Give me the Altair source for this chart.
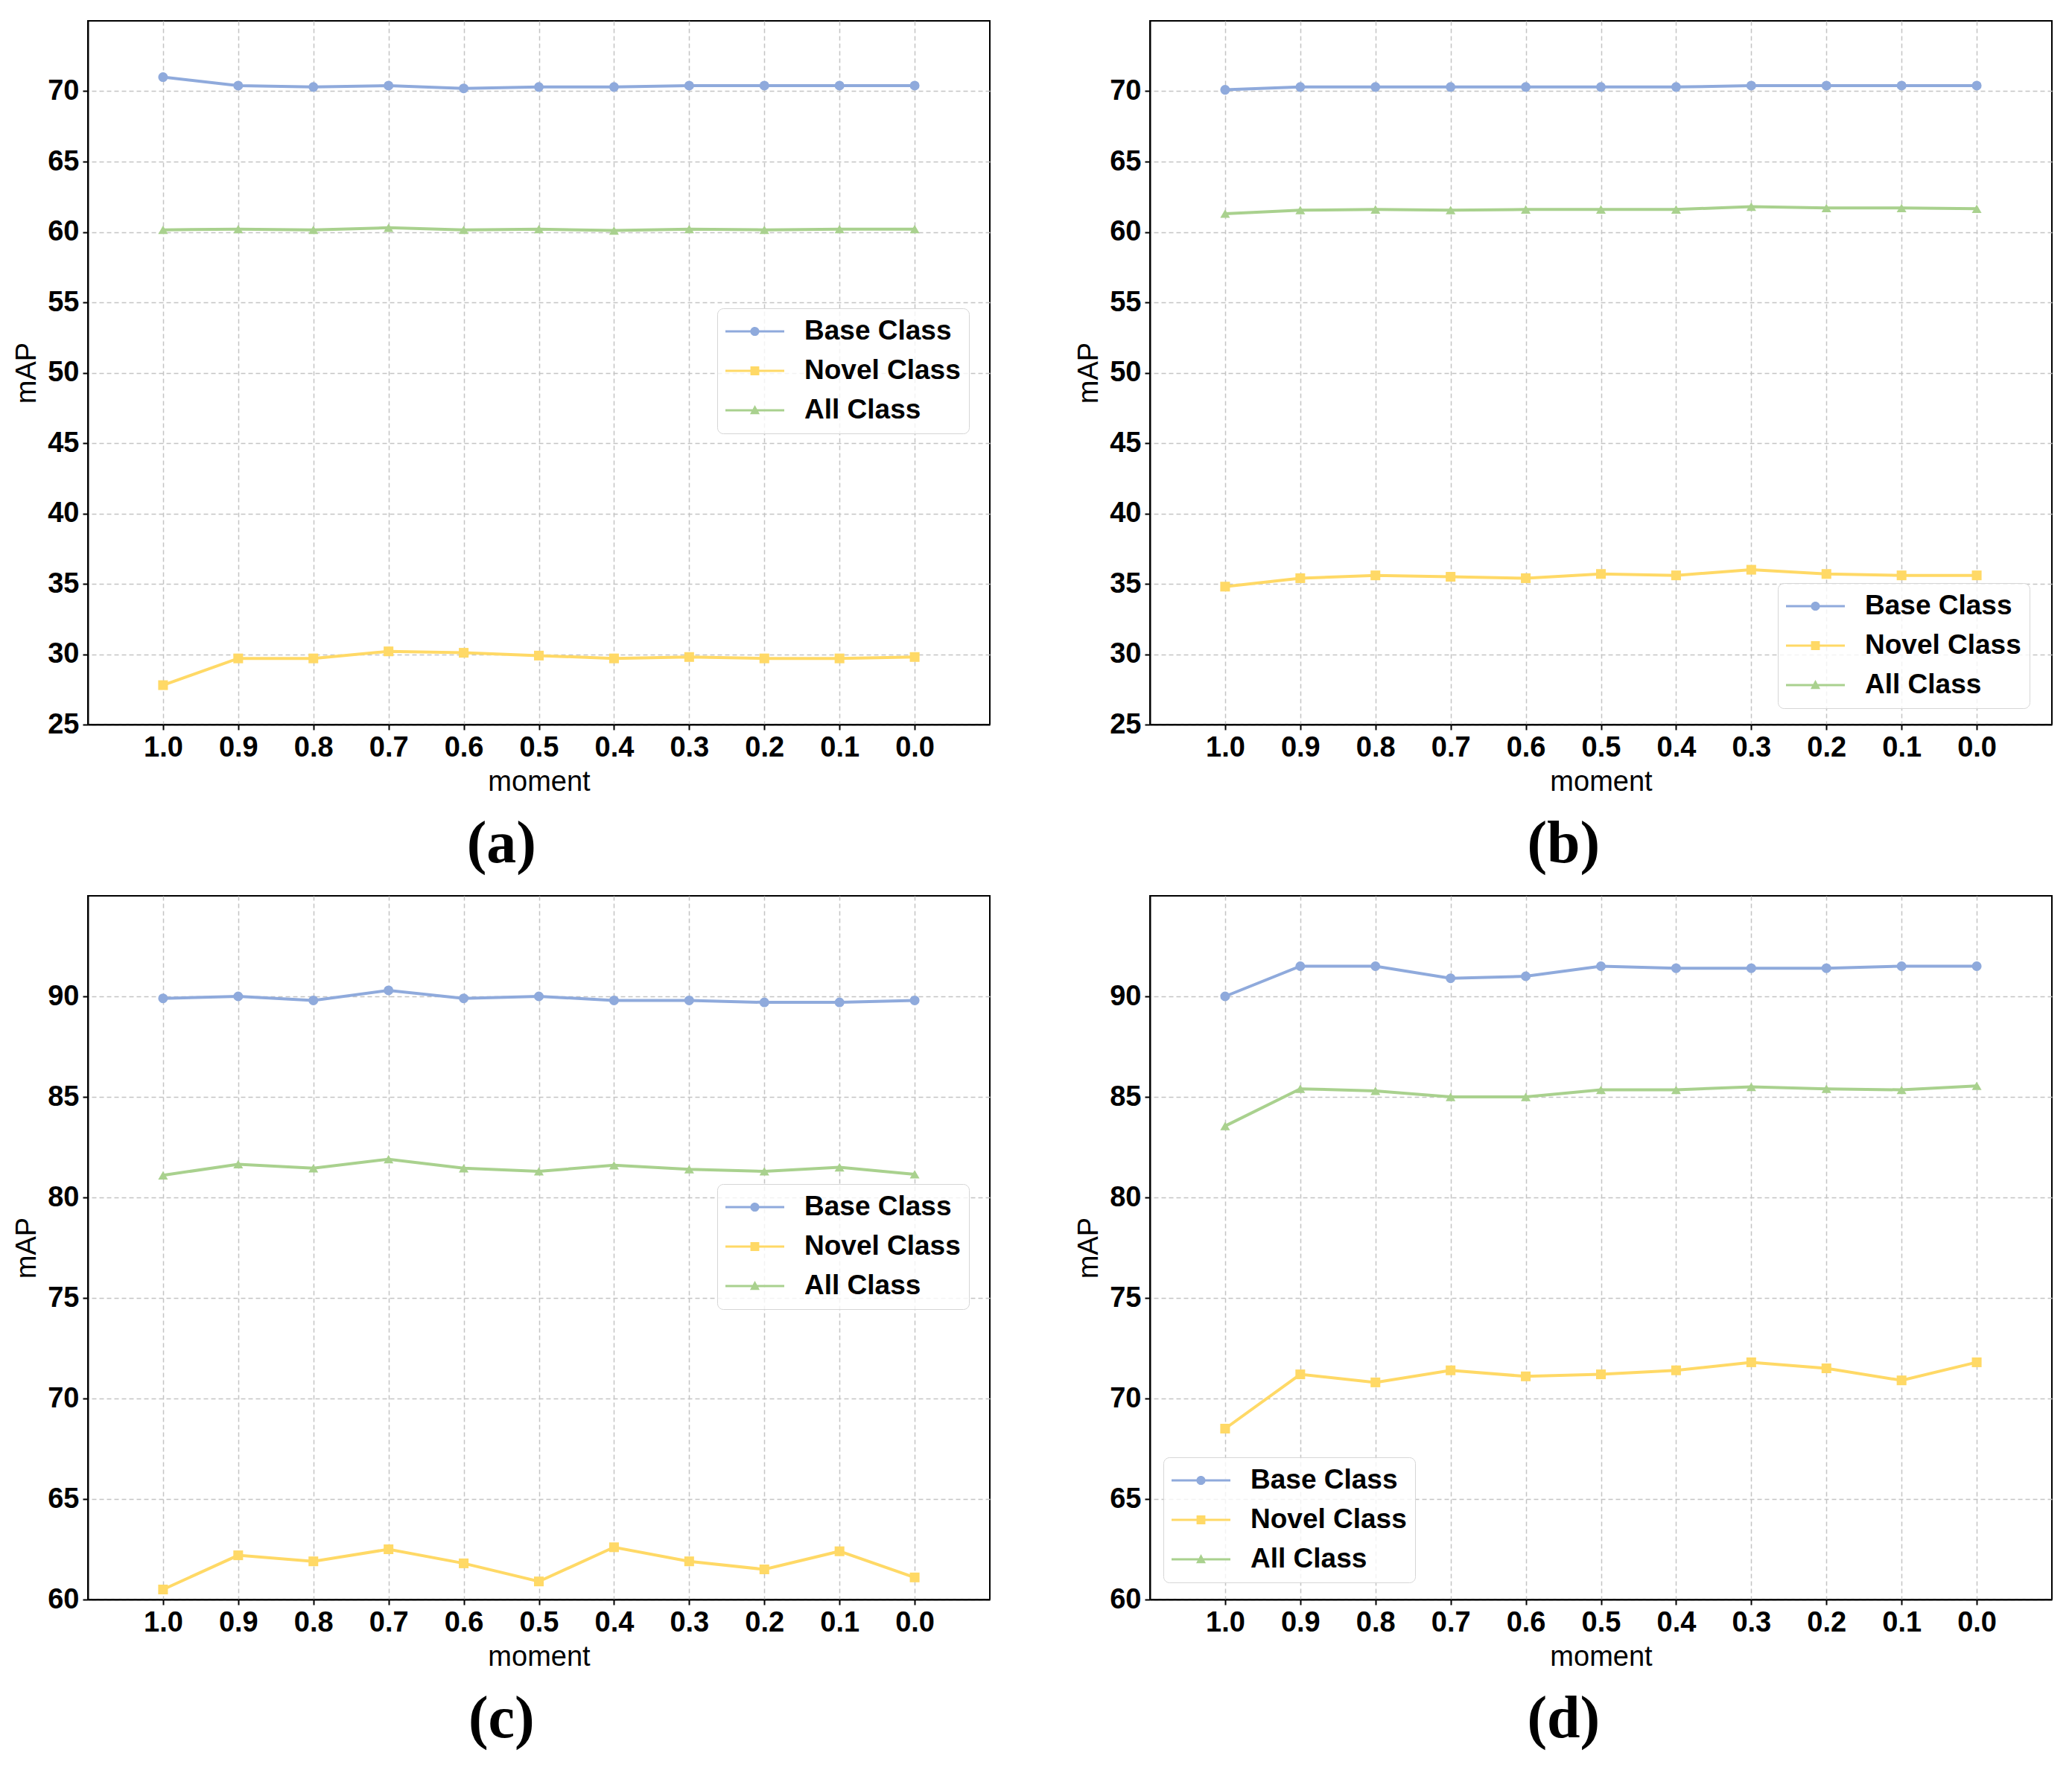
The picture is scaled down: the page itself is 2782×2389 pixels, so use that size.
import altair as alt
import pandas as pd

moments = [1.0, 0.9, 0.8, 0.7, 0.6, 0.5, 0.4, 0.3, 0.2, 0.1, 0.0]
series = ["Base Class", "Novel Class", "All Class"]
colors = ["#8FAADC", "#FFD966", "#A9D18E"]
markers = ["circle", "square", "triangle-up"]

a_base = [71.0, 70.4, 70.3, 70.4, 70.2, 70.3, 70.3, 70.4, 70.4, 70.4, 70.4]
a_novel = [27.8, 29.7, 29.7, 30.2, 30.1, 29.9, 29.7, 29.8, 29.7, 29.7, 29.8]
a_all = [60.15, 60.2, 60.15, 60.3, 60.15, 60.2, 60.1, 60.2, 60.15, 60.2, 60.2]

b_base = [70.1, 70.3, 70.3, 70.3, 70.3, 70.3, 70.3, 70.4, 70.4, 70.4, 70.4]
b_novel = [34.8, 35.4, 35.6, 35.5, 35.4, 35.7, 35.6, 36.0, 35.7, 35.6, 35.6]
b_all = [61.3, 61.55, 61.6, 61.55, 61.6, 61.6, 61.6, 61.8, 61.7, 61.7, 61.65]

c_base = [89.9, 90.0, 89.8, 90.3, 89.9, 90.0, 89.8, 89.8, 89.7, 89.7, 89.8]
c_novel = [60.5, 62.2, 61.9, 62.5, 61.8, 60.9, 62.6, 61.9, 61.5, 62.4, 61.1]
c_all = [81.1, 81.65, 81.45, 81.9, 81.45, 81.3, 81.6, 81.4, 81.3, 81.5, 81.15]

d_base = [90.0, 91.5, 91.5, 90.9, 91.0, 91.5, 91.4, 91.4, 91.4, 91.5, 91.5]
d_novel = [68.5, 71.2, 70.8, 71.4, 71.1, 71.2, 71.4, 71.8, 71.5, 70.9, 71.8]
d_all = [83.55, 85.4, 85.3, 85.0, 85.0, 85.35, 85.35, 85.5, 85.4, 85.35, 85.55]

yticks_ab = [25, 30, 35, 40, 45, 50, 55, 60, 65, 70]
yticks_cd = [60, 65, 70, 75, 80, 85, 90]

# legend symbols: line + marker, in unit coordinates
LINE = "M-1,-0.04L1,-0.04L1,0.04L-1,0.04Z"
P_CIRCLE = LINE + "M-0.155,0A0.155,0.155 0 1,1 0.155,0A0.155,0.155 0 1,1 -0.155,0Z"
P_SQUARE = LINE + "M-0.15,-0.15L0.15,-0.15L0.15,0.15L-0.15,0.15Z"
P_TRI = LINE + "M0,-0.18L0.165,0.13L-0.165,0.13Z"
legend_paths = [P_CIRCLE, P_SQUARE, P_TRI]

W, H = 1211, 945


def panel(label, base, novel, allc, ydom, yvals, lx, ly):
    rows = []
    for s, vals in zip(series, [base, novel, allc]):
        for m, v in zip(moments, vals):
            rows.append({"moment": m, "series": s, "mAP": v})
    df = pd.DataFrame(rows)
    x = alt.X("moment:Q",
              scale=alt.Scale(domain=[-0.1, 1.1], reverse=True, nice=False, zero=False),
              axis=alt.Axis(values=moments, format=".1f", title="moment"))
    y = alt.Y("mAP:Q", scale=alt.Scale(domain=ydom, nice=False, zero=False),
              axis=alt.Axis(values=yvals, title="mAP"))
    cscale = alt.Scale(domain=series, range=colors)
    leg = dict(orient="none", legendX=lx, legendY=ly, title=None,
               labelFont="Liberation Sans", labelFontSize=37, labelFontWeight="bold",
               labelColor="black", labelOffset=27, labelLimit=500, clipHeight=40,
               symbolSize=6241, symbolStrokeWidth=0, symbolOpacity=1,
               padding=11, strokeColor="#d6d6d6", fillColor="rgba(255,255,255,0.8)",
               cornerRadius=8)
    # legend-carrying layer first (its own points are fully transparent)
    layers = [alt.Chart(df)
              .mark_point(filled=True, opacity=0, size=10)
              .encode(x=x, y=y,
                      color=alt.Color("series:N", scale=cscale, legend=alt.Legend(**leg)),
                      shape=alt.Shape("series:N", scale=alt.Scale(domain=series, range=legend_paths),
                                      legend=alt.Legend(**leg)))]
    layers.append(alt.Chart(df).mark_line(strokeWidth=4).encode(
        x=x, y=y, color=alt.Color("series:N", scale=cscale, legend=None)))
    for s, mk in zip(series, markers):
        layers.append(alt.Chart(df).transform_filter(alt.datum.series == s)
                      .mark_point(filled=True, size=170, opacity=1, shape=mk)
                      .encode(x=x, y=y, color=alt.Color("series:N", scale=cscale, legend=None)))
    return alt.layer(*layers).properties(
        width=W, height=H,
        title=alt.TitleParams(label, orient="bottom", font="Liberation Serif", fontSize=80,
                              fontWeight="bold", color="black", offset=26, frame="bounds",
                              anchor="middle"))


pa = panel("(a)", a_base, a_novel, a_all, [25, 75], yticks_ab, 845, 386)
pb = panel("(b)", b_base, b_novel, b_all, [25, 75], yticks_ab, 843, 755)
pc = panel("(c)", c_base, c_novel, c_all, [60, 95], yticks_cd, 845, 387)
pd_ = panel("(d)", d_base, d_novel, d_all, [60, 95], yticks_cd, 18, 754)

row1 = alt.hconcat(pa, pb, spacing=112).resolve_scale(color="independent", shape="independent")
row2 = alt.hconcat(pc, pd_, spacing=112).resolve_scale(color="independent", shape="independent")

chart = alt.vconcat(row1, row2, spacing=27).resolve_scale(
    color="independent", shape="independent").properties(
    padding={"left": 8, "top": 19, "right": 5, "bottom": 5},
    background="white"
).configure_view(stroke="black", strokeWidth=2).configure_axis(
    labelFont="Liberation Sans", labelFontSize=38, labelFontWeight="bold", labelColor="black",
    titleFont="Liberation Sans", titleFontSize=38, titleFontWeight="normal", titleColor="black",
    tickSize=7, tickWidth=2, tickColor="black", domainColor="black", domainWidth=2,
    labelPadding=5, titlePadding=8,
    gridColor="#c4c4c4", gridDash=[6, 4], gridWidth=1.5
).configure_legend(rowPadding=13)

chart.save("out.html", embed_options={"renderer": "svg", "actions": False})
